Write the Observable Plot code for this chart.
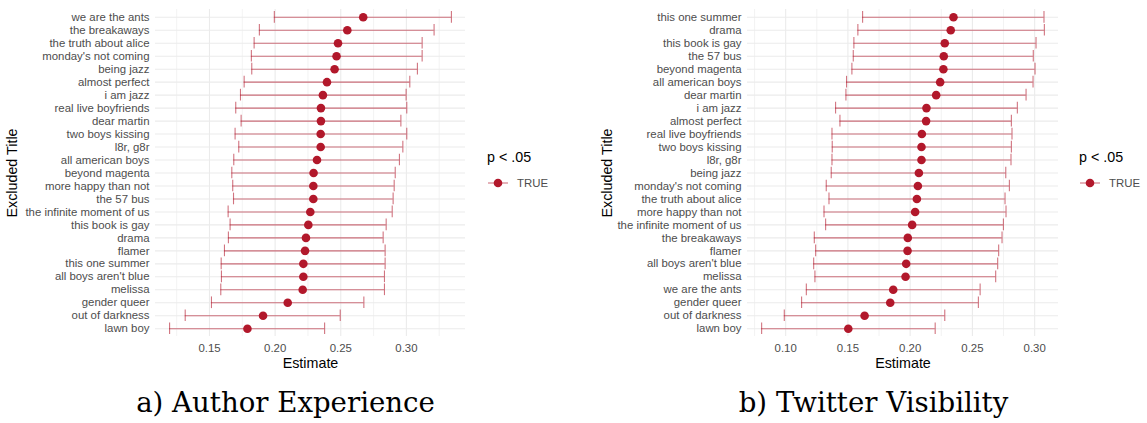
<!DOCTYPE html>
<html>
<head>
<meta charset="utf-8">
<script src="https://cdn.jsdelivr.net/npm/d3@7"></script>
<script src="https://cdn.jsdelivr.net/npm/@observablehq/plot@0.6"></script>
<style>
  html, body { margin: 0; padding: 0; background: #fff; }
  #root { position: relative; width: 1147px; height: 423px; overflow: hidden; background: #fff; font-family: "Liberation Sans", Arial, sans-serif; }
  .panel { position: absolute; top: 0; }
  .legtitle { position: absolute; font-size: 14.3px; line-height: 14.3px; color: #000; white-space: nowrap; }
  .legitem { position: absolute; font-size: 11.4px; line-height: 12px; color: #4d4d4d; white-space: nowrap; display: flex; align-items: center; }
  .caption { position: absolute; font-family: "DejaVu Serif", serif; font-size: 27.6px; line-height: 28px; color: #000; text-align: center; white-space: nowrap; }
</style>
</head>
<body>
<div id="root"></div>
<script>
// ---- Panel a) Author Experience ----
const titlesA = ["we are the ants","the breakaways","the truth about alice","monday's not coming","being jazz","almost perfect","i am jazz","real live boyfriends","dear martin","two boys kissing","l8r, g8r","all american boys","beyond magenta","more happy than not","the 57 bus","the infinite moment of us","this book is gay","drama","flamer","this one summer","all boys aren't blue","melissa","gender queer","out of darkness","lawn boy"];
const estA  = [0.2671,0.2550,0.2479,0.2468,0.2453,0.2395,0.2364,0.2349,0.2349,0.2347,0.2347,0.2319,0.2293,0.2291,0.2291,0.2268,0.2253,0.2235,0.2228,0.2215,0.2215,0.2210,0.2096,0.1908,0.1789];
const lowA  = [0.1994,0.1880,0.1840,0.1819,0.1822,0.1764,0.1736,0.1700,0.1741,0.1695,0.1723,0.1685,0.1670,0.1677,0.1683,0.1642,0.1657,0.1644,0.1614,0.1589,0.1591,0.1586,0.1515,0.1315,0.1196];
const highA = [0.3343,0.3211,0.3120,0.3120,0.3084,0.3026,0.2998,0.3003,0.2958,0.3003,0.2973,0.2947,0.2915,0.2907,0.2899,0.2892,0.2846,0.2823,0.2838,0.2838,0.2833,0.2833,0.2676,0.2496,0.2377];
const majorTicksA = [0.15, 0.20, 0.25, 0.30];
const minorTicksA = [0.125, 0.175, 0.225, 0.275, 0.325];

// ---- Panel b) Twitter Visibility ----
const titlesB = ["this one summer","drama","this book is gay","the 57 bus","beyond magenta","all american boys","dear martin","i am jazz","almost perfect","real live boyfriends","two boys kissing","l8r, g8r","being jazz","monday's not coming","the truth about alice","more happy than not","the infinite moment of us","the breakaways","flamer","all boys aren't blue","melissa","we are the ants","gender queer","out of darkness","lawn boy"];
const estB  = [0.2348,0.2326,0.2278,0.2270,0.2267,0.2241,0.2209,0.2131,0.2128,0.2094,0.2091,0.2091,0.2070,0.2062,0.2054,0.2040,0.2016,0.1981,0.1979,0.1968,0.1963,0.1864,0.1840,0.1634,0.1503];
const lowB  = [0.1618,0.1580,0.1548,0.1543,0.1532,0.1489,0.1484,0.1401,0.1436,0.1372,0.1374,0.1372,0.1366,0.1326,0.1348,0.1308,0.1321,0.1230,0.1241,0.1225,0.1235,0.1166,0.1128,0.0989,0.0807];
const highB = [0.3075,0.3078,0.3011,0.2989,0.3003,0.2987,0.2931,0.2861,0.2813,0.2818,0.2813,0.2810,0.2768,0.2797,0.2762,0.2770,0.2749,0.2738,0.2711,0.2703,0.2687,0.2562,0.2548,0.2278,0.2201];
const majorTicksB = [0.10, 0.15, 0.20, 0.25, 0.30];
const minorTicksB = [0.075, 0.125, 0.175, 0.225, 0.275];

const xLabel = "Estimate";
const yLabel = "Excluded Title";
const legendTitle = "p < .05";
const legendLabel = "TRUE";
const captionA = "a) Author Experience";
const captionB = "b) Twitter Visibility";

const RED = "#b2182b";
const GRID = "#ebebeb";

function panel(titles, est, lo, hi, major, minor, cfg) {
  const data = titles.map((t, i) => ({title: t, est: est[i], lo: lo[i], hi: hi[i]}));
  const mn = d3.min(lo), mx = d3.max(hi), pad = (mx - mn) * 0.05;
  return Plot.plot({
    width: cfg.width, height: 372,
    marginLeft: cfg.marginLeft, marginRight: cfg.marginRight, marginTop: 9, marginBottom: 36,
    style: {fontFamily: "'Liberation Sans', Arial, sans-serif", fontSize: "11.4px", background: "transparent", overflow: "visible"},
    x: {domain: [mn - pad, mx + pad]},
    y: {type: "band", domain: titles, paddingInner: 0.1, paddingOuter: 0.15, round: false},
    marks: [
      Plot.ruleX(minor, {stroke: GRID, strokeWidth: 0.6}),
      Plot.ruleX(major, {stroke: GRID, strokeWidth: 1.1}),
      Plot.gridY({stroke: GRID, strokeOpacity: 1, strokeWidth: 1.1}),
      Plot.axisX({ticks: major, tickSize: 0, tickPadding: 7, tickFormat: d3.format(".2f"), label: null, fill: "#4d4d4d"}),
      Plot.axisY({tickSize: 0, tickPadding: 6, label: null, fill: "#4d4d4d"}),
      Plot.text([xLabel], {text: d => d, frameAnchor: "bottom", dy: 27, lineAnchor: "middle", textAnchor: "middle", fontSize: 14.3, fill: "#000"}),
      Plot.text([yLabel], {text: d => d, frameAnchor: "left", dx: -cfg.yLabelOffset, rotate: -90, lineAnchor: "middle", textAnchor: "middle", fontSize: 14.3, fill: "#000"}),
      Plot.ruleY(data, {y: "title", x1: "lo", x2: "hi", stroke: RED, strokeOpacity: 0.6, strokeWidth: 1.1}),
      Plot.tickX(data, {x: "lo", y: "title", stroke: RED, strokeOpacity: 0.6, strokeWidth: 1.1}),
      Plot.tickX(data, {x: "hi", y: "title", stroke: RED, strokeOpacity: 0.6, strokeWidth: 1.1}),
      Plot.dot(data, {x: "est", y: "title", r: 4.3, fill: RED, stroke: "none"})
    ]
  });
}

const root = document.getElementById("root");

function addPanel(svg, left) {
  const d = document.createElement("div");
  d.className = "panel";
  d.style.left = left + "px";
  d.appendChild(svg);
  root.appendChild(d);
}

addPanel(panel(titlesA, estA, lowA, highA, majorTicksA, minorTicksA, {width: 470, marginLeft: 155, marginRight: 5, yLabelOffset: 143}), 0);
addPanel(panel(titlesB, estB, lowB, highB, majorTicksB, minorTicksB, {width: 485, marginLeft: 167, marginRight: 7, yLabelOffset: 140}), 580);

function addLegend(left) {
  const t = document.createElement("div");
  t.className = "legtitle";
  t.style.left = left + "px";
  t.style.top = "150px";
  t.textContent = legendTitle;
  root.appendChild(t);
  const item = document.createElement("div");
  item.className = "legitem";
  item.style.left = (left + 1) + "px";
  item.style.top = "177px";
  item.innerHTML = `<svg width="20" height="12" style="margin-right:9px;overflow:visible"><line x1="0" x2="20" y1="6" y2="6" stroke="${RED}" stroke-opacity="0.6" stroke-width="1.1"></line><circle cx="10" cy="6" r="4.3" fill="${RED}"></circle></svg>`;
  const s = document.createElement("span");
  s.textContent = legendLabel;
  item.appendChild(s);
  root.appendChild(item);
}
addLegend(487);
addLegend(1079);

function addCaption(text, center) {
  const c = document.createElement("div");
  c.className = "caption";
  c.style.left = (center - 200) + "px";
  c.style.width = "400px";
  c.style.top = "389px";
  c.textContent = text;
  root.appendChild(c);
}
addCaption(captionA, 285.5);
addCaption(captionB, 873.5);
</script>
</body>
</html>
